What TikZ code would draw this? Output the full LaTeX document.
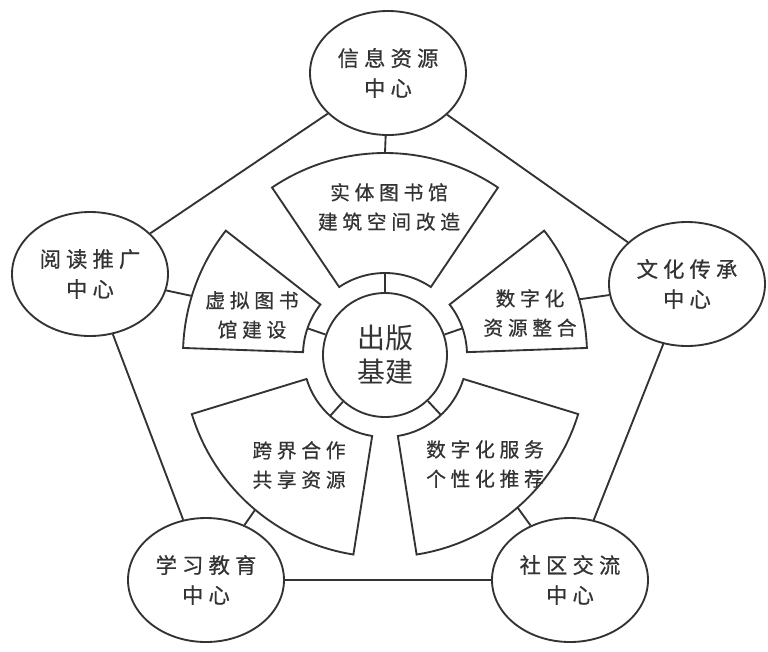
\documentclass[tikz,border=0pt]{standalone}
\usepackage{fontspec}
\newfontfamily\cjk{Noto Sans CJK SC}
\newfontfamily\cjkwide[LetterSpace=24, FakeBold=0.6]{Noto Sans CJK SC}
\usetikzlibrary{shapes.geometric,calc}
\definecolor{ink}{HTML}{333333}

\begin{document}
\begin{tikzpicture}[x=0.75pt, y=0.75pt, line width=1.4pt, color=ink,
	hub/.style={circle, draw, fill=white, minimum size=93pt, inner sep=0pt, align=center, font=\cjk\fontsize{21}{25.5}\selectfont},
	centre/.style={ellipse, draw, fill=white, minimum width=117pt, minimum height=93pt, inner sep=0pt, align=center, font=\cjkwide\fontsize{16}{22.5}\selectfont},
	fanlabel/.style={align=center, font=\cjkwide\fontsize{14.8}{22}\selectfont}]
	\useasboundingbox (0,0) rectangle (768,-651);
	% hub and outer centres
	\node[hub] (hub) at (385,-355) {出版\\基建};
	\node[centre] (info) at (388,-73) {信息资源\\中心};
	\node[centre] (read) at (90,-274) {阅读推广\\中心};
	\node[centre] (cult) at (687,-284) {文化传承\\中心};
	\node[centre] (learn) at (206,-580) {学习教育\\中心};
	\node[centre] (comm) at (570,-580) {社区交流\\中心};
	% pentagon
	\draw (info) -- (read) -- (learn) -- (comm) -- (cult) -- (info);
	% fans round the hub
	\begin{scope}[shift={(hub)}]
		\foreach \a/\b in {2/38, 56/124, 142/178, 197/261, 279/343}
			\draw (\a:82) arc[start angle=\a, end angle=\b, radius=82] -- (\b:202)
				arc[start angle=\b, end angle=\a, radius=202] -- cycle;
		% inner and outer ends of the spokes
		\foreach \n/\i/\o in {top/90/90, left/161/163, right/19/16, bl/228/230, br/313/311} {
			\coordinate (in-\n) at (\i:82);
			\coordinate (out-\n) at (\o:202);
		}
	\end{scope}
	% spokes
	\foreach \n in {top, left, right, bl, br}
		\draw (hub) -- (in-\n);
	\draw (out-top) -- (info);
	\draw (out-left) -- (read);
	\draw (out-right) -- (cult);
	\draw (out-bl) -- (learn);
	\draw (out-br) -- (comm);
	% fan labels
	\node[fanlabel] (build) at (389,-207) {实体图书馆\\建筑空间改造};
	\node[fanlabel] (virt) at (252,-315) {虚拟图书\\馆建设};
	\node[fanlabel] (digi) at (530,-313) {数字化\\资源整合};
	\node[fanlabel] (share) at (299,-465) {跨界合作\\共享资源};
	\node[fanlabel] (serv) at (485,-464) {数字化服务\\个性化推荐};
\end{tikzpicture}
\end{document}
